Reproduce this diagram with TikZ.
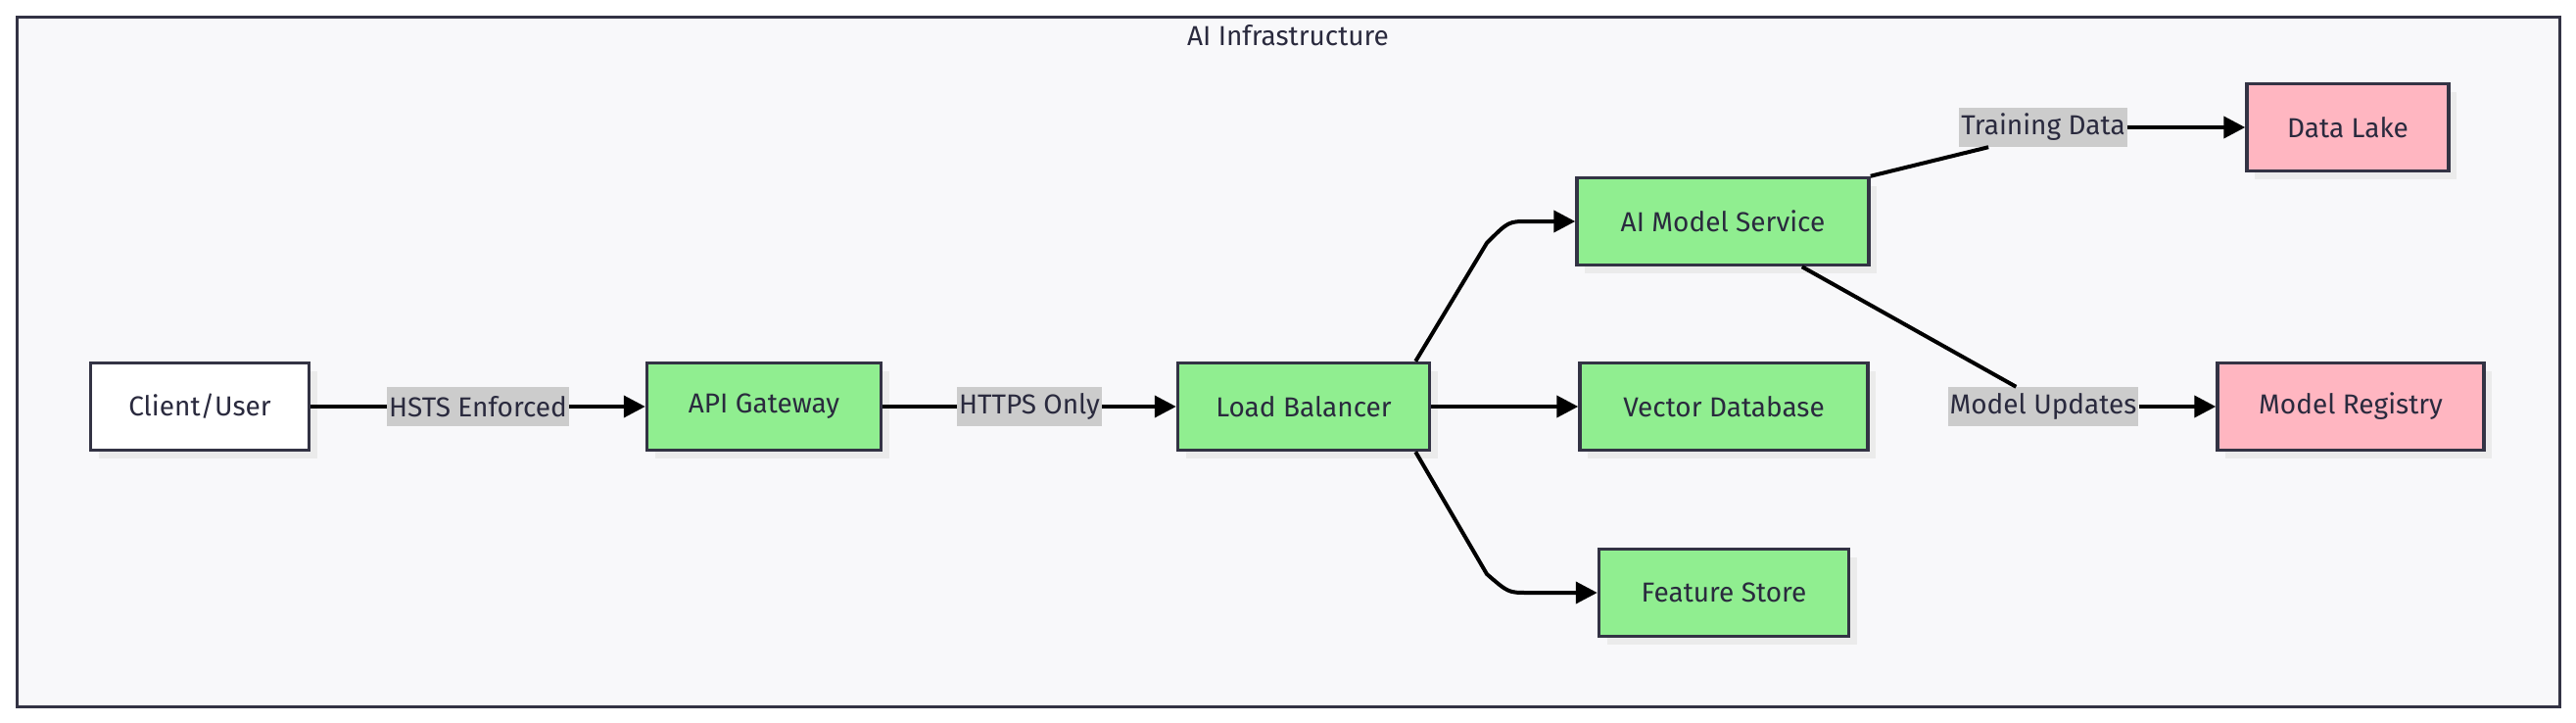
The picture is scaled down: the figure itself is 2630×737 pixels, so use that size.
\documentclass[tikz,border=0pt]{standalone}
\usepackage{fontspec}
\setmainfont{Fira Sans}
\usetikzlibrary{arrows.meta}
\definecolor{txt}{HTML}{2A2A3E}
\definecolor{edge}{HTML}{333344}
\tikzset{x=1pt,y=-1pt,
 box/.style={draw=edge,line width=3.5pt,minimum height=89pt,font=\fontsize{28}{32}\selectfont,text=txt,
   inner sep=0pt, drop shadow={shadow xshift=8pt,shadow yshift=-8pt,fill=black!8,opacity=1}},
 grn/.style={box,fill=green!45!white!90!black,fill={rgb,255:red,144;green,238;blue,144}},
 pnk/.style={box,fill={rgb,255:red,255;green,182;blue,193}},
 wht/.style={box,fill=white},
 lbl/.style={fill={rgb,255:red,204;green,204;blue,204},inner sep=2pt,text=txt,font=\fontsize{28}{32}\selectfont,minimum height=40pt},
 con/.style={line width=4pt,draw=black},
 arr/.style={con,-{Triangle[length=22pt,width=22pt]}}}
\usetikzlibrary{shadows}
\begin{document}
\begin{tikzpicture}
\useasboundingbox (0,0) rectangle (2630,737);
\fill[white] (0,0) rectangle (2630,737);
\draw[fill={rgb,255:red,248;green,248;blue,250},draw=edge,line width=3pt] (17,17) rectangle (2613,721);
\node[font=\fontsize{28}{32}\selectfont,text=txt] (title) at (1315,36) {AI Infrastructure};
\node[wht,minimum width=223pt] (cu) at (204,415) {Client/User};
\node[grn,minimum width=239pt] (api) at (780,415) {API Gateway};
\node[grn,minimum width=257pt] (lb) at (1331,415) {Load Balancer};
\node[grn,minimum width=298pt] (ai) at (1759,226) {AI Model Service};
\node[grn,minimum width=294pt] (vd) at (1760,415) {Vector Database};
\node[grn,minimum width=255pt] (fs) at (1760,605) {Feature Store};
\node[pnk,minimum width=206pt] (dl) at (2397,130) {Data Lake};
\node[pnk,minimum width=272pt] (mr) at (2400,415) {Model Registry};
\node[lbl] (l1) at (488,415) {HSTS Enforced};
\node[lbl] (l2) at (1051,415) {HTTPS Only};
\node[lbl] (l3) at (2086,130) {Training Data};
\node[lbl] (l4) at (2086,415) {Model Updates};
\draw[con] (cu.east) -- (l1.west);
\draw[arr] (l1.east) -- (api.west);
\draw[con] (api.east) -- (l2.west);
\draw[arr] (l2.east) -- (lb.west);
\draw[arr] (lb.east) -- (vd.west);
\draw[arr] ([xshift=-16pt]lb.north east) -- (1518,248) .. controls (1540,226) .. (1560,226) -- (ai.west);
\draw[arr] ([xshift=-16pt]lb.south east) -- (1518,586) .. controls (1540,605) .. (1560,605) -- (fs.west);
\draw[con] (ai.north east) -- ([xshift=30pt]l3.south west);
\draw[arr] (l3.east) -- (dl.west);
\draw[con] ([xshift=-70pt]ai.south east) -- ([xshift=70pt]l4.north west);
\draw[arr] (l4.east) -- (mr.west);
\end{tikzpicture}
\end{document}
